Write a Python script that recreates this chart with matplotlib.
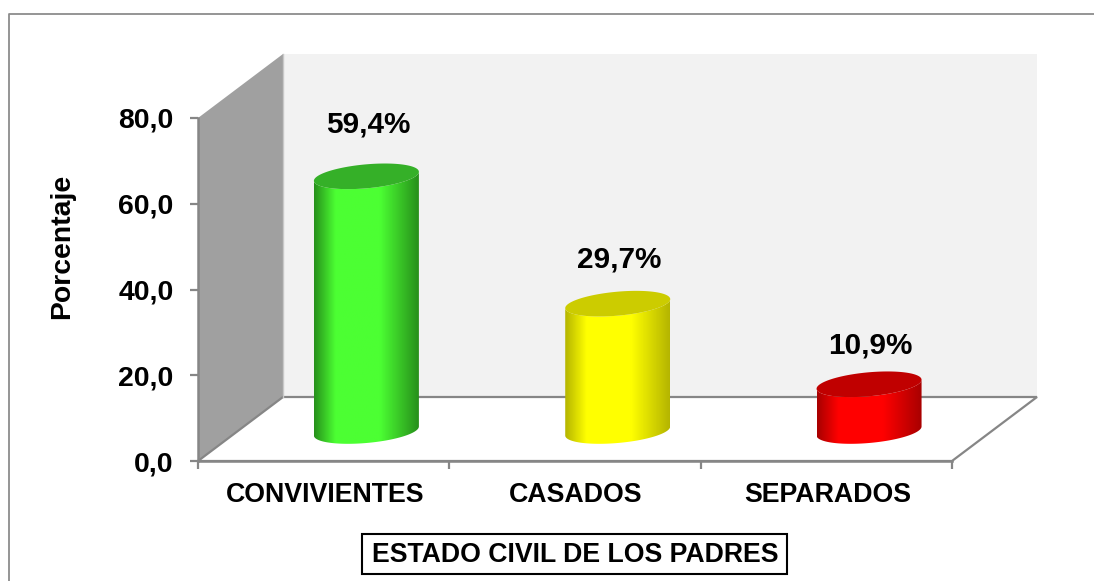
'''
Estado civil de los padres: pseudo 3D cylinder bar chart
'''
import numpy as np
import matplotlib
matplotlib.use('Agg')
import matplotlib.pyplot as plt
from matplotlib.colors import LinearSegmentedColormap
from matplotlib.patches import Polygon, Rectangle

plt.rcParams['font.family'] = ['Liberation Sans', 'DejaVu Sans']
plt.rcParams['font.weight'] = 'bold'

# DATA
categories = ['CONVIVIENTES', 'CASADOS', 'SEPARADOS']
values = [59.4, 29.7, 10.9]
value_labels = ['59,4%', '29,7%', '10,9%']
y_ticks = [0, 20, 40, 60, 80]
y_tick_labels = ['0,0', '20,0', '40,0', '60,0', '80,0']

# STYLE
side_colors = [('#27901b', '#4cff33'), ('#b5b500', '#ffff00'), ('#a80000', '#ff0000')]
top_colors = ['#35b028', '#cccc00', '#c00000']
label_gap = [52, 44, 39]  # px between bar top and its label
GRAY = '#868686'

W, H = 1094, 581
fig = plt.figure(figsize=(W / 100, H / 100), dpi=100)

# full figure axes in pixels for the frame and the title box
bg = fig.add_axes([0, 0, 1, 1])
bg.set_xlim(0, W)
bg.set_ylim(H, 0)
bg.axis('off')
bg.plot([8.5, 8.5, W], [H, 13.5, 13.5], color='#8c8c8c', lw=1.3)

# main axes: front edge of the floor and the height of the front plane
X0, X1, Y0, Y1 = 198, 952, 461, 118
ax = fig.add_axes([X0 / W, 1 - Y0 / H, (X1 - X0) / W, (Y0 - Y1) / H])
ax.patch.set_alpha(0)
ax.set_xlim(0, 3)
ax.set_ylim(0, 80)
px_x = 3 / (X1 - X0)
px_y = 80 / (Y0 - Y1)

# depth of the box
dx = 85 * px_x
dy = 64 * px_y

ax.add_patch(Polygon([(dx, dy), (3 + dx, dy), (3 + dx, 80 + dy), (dx, 80 + dy)],
                     fc='#f2f2f2', ec='none', clip_on=False, zorder=1))
ax.add_patch(Polygon([(0, 0), (dx, dy), (dx, 80 + dy), (0, 80)],
                     fc='#a0a0a0', ec='none', clip_on=False, zorder=1))
ax.add_patch(Polygon([(0, 0), (3, 0), (3 + dx, dy), (dx, dy)],
                     fc='white', ec=GRAY, lw=1.6, clip_on=False, zorder=2))
ax.plot([dx, dx], [dy, 80 + dy], color='#c8c8c8', lw=1, clip_on=False, zorder=2)

for s in ['top', 'right']:
    ax.spines[s].set_visible(False)
for s in ['left', 'bottom']:
    ax.spines[s].set_color(GRAY)
    ax.spines[s].set_linewidth(1.8)
    ax.spines[s].set_zorder(3)

ax.set_yticks(y_ticks)
ax.set_yticklabels(y_tick_labels, fontsize=20.4, fontweight='bold')
ax.set_xticks([0, 1, 2, 3])
ax.set_xticklabels([])
ax.tick_params(axis='both', color=GRAY, width=1.6, length=6, zorder=3)
ax.tick_params(axis='y', pad=11.5)

for i, name in enumerate(categories):
    bg.text(X0 + (i + 0.5) * (X1 - X0) / 3 + 1, 495, name, ha='center', va='center',
            fontsize=19.3, fontweight='bold')

bg.text(62, 246, 'Porcentaje', rotation=90, ha='center', va='center',
        fontsize=20.4, fontweight='bold')
bg.add_patch(Rectangle((362, 534), 425, 40, fc='white', ec='black', lw=1.5))
bg.text(575, 555, 'ESTADO CIVIL DE LOS PADRES', ha='center', va='center',
        fontsize=19.2, fontweight='bold')

# cylinders
a = 52.5 * px_x   # half width
b = 12 * px_y     # half height of the ellipse
s = 4.5 * px_y    # tilt of the ellipse
base = 30 * px_y  # centre of the bottom ellipse
t_low = np.linspace(np.pi, 2 * np.pi, 80)
t_all = np.linspace(0, 2 * np.pi, 160)


def ellipse(cx, cy, t):
    # right end sits higher than the left end
    return np.column_stack([cx + a * np.cos(t), cy + b * np.sin(t) + s * np.cos(t)])


for i, v in enumerate(values):
    cx = i + 0.5 + 0.17
    top = base + v
    body = np.vstack([ellipse(cx, base, t_low), ellipse(cx, top, t_low)[::-1]])
    clip = Polygon(body, transform=ax.transData, fc='none', ec='none')
    ax.add_patch(clip)

    dark, light = side_colors[i]
    cmap = LinearSegmentedColormap.from_list('side', [dark, light, light, dark])
    # shading across the cylinder, brightest a bit left of centre
    shade = np.interp(np.linspace(0, 1, 200), [0, 0.22, 0.6, 1], [0, 0.36, 0.64, 1])
    ymin, ymax = base - b - s, top + s
    im = ax.imshow(shade[None, :], cmap=cmap, vmin=0, vmax=1, aspect='auto', zorder=4,
                   extent=[cx - a, cx + a, ymin, ymax], interpolation='bilinear')
    im.set_clip_path(clip)

    ax.add_patch(Polygon(ellipse(cx, top, t_all), fc=top_colors[i], ec='none', zorder=5))
    ax.text(cx + 1.5 * px_x, top + label_gap[i] * px_y, value_labels[i], ha='center', va='center',
            fontsize=21.4, fontweight='bold', zorder=6, clip_on=False)

ax.set_xlim(0, 3)
ax.set_ylim(0, 80)

plt.savefig('out.png', dpi=100)
